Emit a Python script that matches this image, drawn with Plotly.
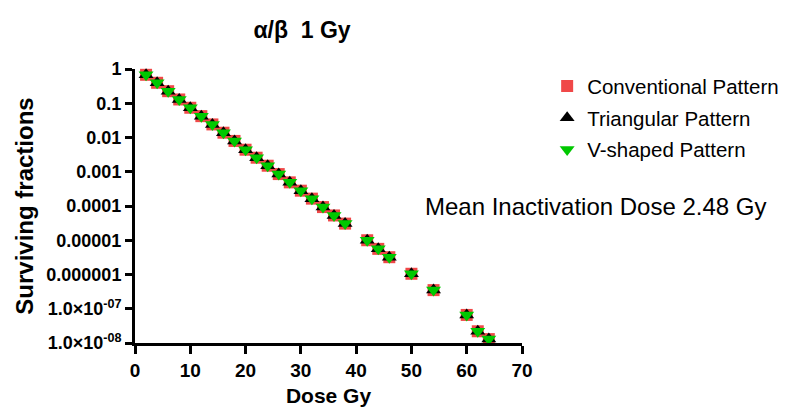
import plotly.graph_objects as go

dose = [2, 4, 6, 8, 10, 12, 14, 16, 18, 20, 22, 24, 26, 28, 30, 32, 34, 36, 38,
        42, 44, 46, 50, 54, 60, 62, 64]
conventional = [0.677, 0.396, 0.225, 0.129, 0.0739, 0.0420, 0.0241, 0.0138, 0.00794,
                0.00440, 0.00257, 0.00150, 0.000855, 0.000490, 0.000280, 0.000164,
                9.3e-5, 5.3e-5, 3.06e-5, 1.0e-5, 5.6e-6, 3.2e-6, 1.05e-6, 3.5e-7,
                6.6e-8, 2.2e-8, 1.3e-8]
triangular = [0.677, 0.396, 0.225, 0.129, 0.0739, 0.0420, 0.0241, 0.0138, 0.00794,
              0.00440, 0.00257, 0.00150, 0.000855, 0.000490, 0.000280, 0.000164,
              9.3e-5, 5.3e-5, 3.06e-5, 1.0e-5, 5.6e-6, 3.2e-6, 1.05e-6, 3.5e-7,
              6.6e-8, 2.2e-8, 1.3e-8]
vshaped = [0.677, 0.396, 0.225, 0.129, 0.0739, 0.0420, 0.0241, 0.0138, 0.00794,
           0.00440, 0.00257, 0.00150, 0.000855, 0.000490, 0.000280, 0.000164,
           9.3e-5, 5.3e-5, 3.06e-5, 1.0e-5, 5.6e-6, 3.2e-6, 1.05e-6, 3.5e-7,
           6.6e-8, 2.2e-8, 1.3e-8]

x_ticks = [0, 10, 20, 30, 40, 50, 60, 70]
y_ticks = [1, 0.1, 0.01, 0.001, 0.0001, 1e-5, 1e-6, 1e-7, 1e-8]
y_ticktext = ["1", "0.1", "0.01", "0.001", "0.0001", "0.00001", "0.000001",
              "1.0×10<sup>-07</sup>", "1.0×10<sup>-08</sup>"]

FONT = "Liberation Sans, Arial, Helvetica, sans-serif"

fig = go.Figure()
fig.add_trace(go.Scatter(x=dose, y=conventional, mode="markers", name="Conventional Pattern",
                         legendgroup="a", cliponaxis=False,
                         marker=dict(symbol="square", size=12, color="#F04848")))
fig.add_trace(go.Scatter(x=dose, y=triangular, mode="markers", name="Triangular Pattern",
                         legendgroup="b", cliponaxis=False,
                         marker=dict(symbol="triangle-up", size=13, color="#000000")))
fig.add_trace(go.Scatter(x=dose, y=vshaped, mode="markers", name="V-shaped Pattern",
                         legendgroup="c", cliponaxis=False,
                         marker=dict(symbol="triangle-down", size=13, color="#00C800")))

fig.update_layout(
    width=786, height=407,
    margin=dict(l=135, r=264, t=69, b=64, autoexpand=False),
    paper_bgcolor="white", plot_bgcolor="white",
    font=dict(family=FONT, color="black"),
    title=dict(text="α/β  1 Gy", x=302 / 786, xref="container", xanchor="center",
               y=1 - 30 / 407, yref="container", yanchor="middle",
               font=dict(size=23, weight="bold", family=FONT)),
    showlegend=True,
    legend=dict(x=1.065, xanchor="left", y=1.01, yanchor="top",
                font=dict(size=20.5, family=FONT), tracegroupgap=2,
                bgcolor="rgba(0,0,0,0)"),
    xaxis=dict(range=[0, 70], tickvals=x_ticks, showgrid=False, zeroline=False,
               automargin=False,
               showline=True, linecolor="black", linewidth=3,
               ticks="outside", ticklen=8, tickwidth=3, tickcolor="black",
               tickfont=dict(size=19, weight="bold", family=FONT),
               title=dict(text="Dose Gy", font=dict(size=21, weight="bold", family=FONT),
                          standoff=16)),
    yaxis=dict(type="log", range=[-8, 0], tickvals=y_ticks, ticktext=y_ticktext,
               showgrid=False, zeroline=False, automargin=False,
               showline=True, linecolor="black", linewidth=3,
               ticks="outside", ticklen=7, tickwidth=3, tickcolor="black",
               tickfont=dict(size=18, weight="bold", family=FONT),
               title=dict(text="Surviving fractions",
                          font=dict(size=24, weight="bold", family=FONT), standoff=6)),
    annotations=[dict(text="Mean Inactivation Dose 2.48 Gy", xref="paper", yref="paper",
                      x=(423 - 135) / 387, y=(343.3 - 207) / 274.3,
                      xanchor="left", yanchor="middle", showarrow=False,
                      font=dict(size=24, family=FONT))],
)

fig.write_html("out.html")
